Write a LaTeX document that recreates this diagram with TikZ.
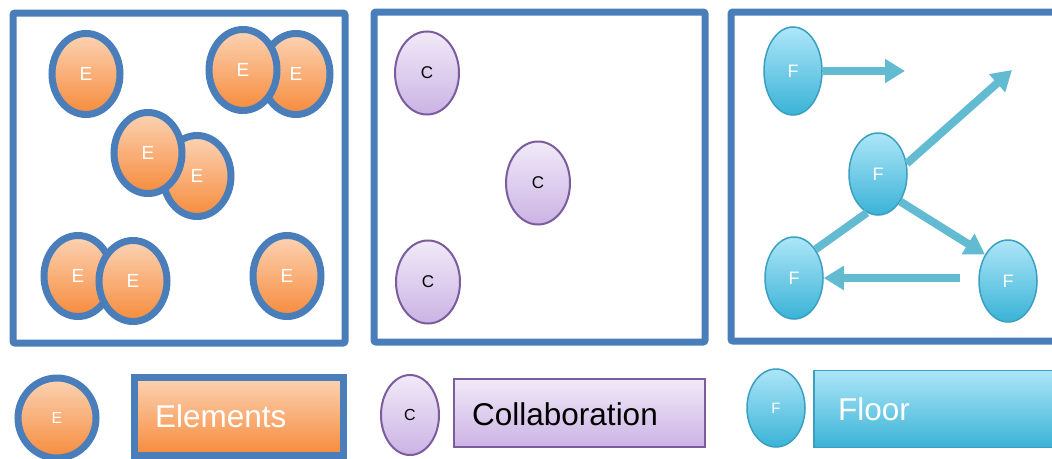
\documentclass[tikz,border=0pt]{standalone}
\usepackage{fontspec}
\setmainfont{Liberation Sans}
\usetikzlibrary{shapes.geometric,arrows.meta}
\definecolor{frameblue}{HTML}{4A7EBB}
\definecolor{etop}{HTML}{FCD3B4}
\definecolor{ebot}{HTML}{F68B3C}
\definecolor{ctop}{HTML}{F1EAF8}
\definecolor{cbot}{HTML}{CBB3E4}
\definecolor{cline}{HTML}{7B5C9E}
\definecolor{ftop}{HTML}{ADE6F8}
\definecolor{fbot}{HTML}{3AB3D6}
\definecolor{fline}{HTML}{3A9FC0}
\definecolor{arrowc}{HTML}{62BBD1}
\tikzset{
  frame/.style={draw=frameblue, line width=7pt, rounded corners=2pt},
  eball/.style={ellipse, draw=frameblue, line width=7pt, top color=etop, bottom color=ebot,
    minimum width=68pt, minimum height=81pt, inner sep=0pt, text=white, font=\fontsize{19}{19}\selectfont},
  cball/.style={ellipse, draw=cline, line width=2pt, top color=ctop, bottom color=cbot,
    minimum width=64pt, minimum height=83pt, inner sep=0pt, text=black, font=\fontsize{17}{17}\selectfont},
  fball/.style={ellipse, draw=fline, line width=1.5pt, top color=ftop, bottom color=fbot,
    minimum width=58pt, minimum height=82pt, inner sep=0pt, text=white, font=\fontsize{18}{18}\selectfont},
  flow/.style={draw=arrowc, line width=8pt, -{Triangle[length=20pt,width=23pt]}},
  label/.style={anchor=west, font=\fontsize{31.5}{31.5}\selectfont, inner sep=0pt}
}
\begin{document}
\begin{tikzpicture}[x=1pt,y=-1pt]
\useasboundingbox (0,0) rectangle (1052,458);
\clip (0,0) rectangle (1052,458);
\fill[white] (0,0) rectangle (1052,458);
% frames
\draw[frame] (13,13) rectangle (345,343);
\draw[frame] (374,12) rectangle (705,342);
\draw[frame] (731,12) rectangle (1070,341);
% Elements panel
\node[eball] (e1) at (86,74) {E};
\node[eball] (e3) at (296,74) {E};
\node[eball] (e2) at (243,70) {E};
\node[eball] (e5) at (197,176) {E};
\node[eball] (e4) at (148,153) {E};
\node[eball] (e6) at (78,276) {E};
\node[eball] (e7) at (133,281) {E};
\node[eball] (e8) at (287,276) {E};
% Collaboration panel
\node[cball] (c1) at (427,73) {C};
\node[cball] (c2) at (538,183) {C};
\node[cball] (c3) at (428,282) {C};
% Floor panel
\node[fball, minimum height=88pt] (f1) at (793,71) {F};
\node[fball] (f2) at (878,174) {F};
\node[fball] (f3) at (794,278) {F};
\node[fball] (f4) at (1008,281) {F};
\coordinate (t1) at (905,71);
\coordinate (t2) at (1012,70);
\coordinate (s5) at (960,278);
\draw[flow] (f1.east) -- (t1);
\draw[flow] (f2.20) -- (t2);
\draw[flow] (f2.309) -- (f4.131);
\draw[draw=arrowc, line width=8pt] (f2.254) -- (f3.53);
\draw[flow] (s5) -- (f3.east);
% legend
\node[eball, minimum width=78pt, minimum height=80pt, font=\fontsize{16}{16}\selectfont] (le) at (57,418) {E};
\node[draw=frameblue, line width=7pt, top color=etop, bottom color=ebot, minimum width=209pt, minimum height=78pt, inner sep=0pt] (lebox) at (238.5,416) {};
\node[label, text=white] (letext) at (155,416) {Elements};
\node[cball, minimum width=58pt, minimum height=80pt, font=\fontsize{16}{16}\selectfont] (lc) at (410,415) {C};
\node[draw=cline, line width=2pt, top color=ctop, bottom color=cbot, minimum width=251pt, minimum height=68pt, inner sep=0pt] (lcbox) at (579.5,413) {};
\node[label, text=black] (lctext) at (472,414) {Collaboration};
\node[fball, minimum width=58pt, minimum height=78pt, font=\fontsize{15}{15}\selectfont] (lf) at (776,408) {F};
\node[draw=fline, line width=1.5pt, top color=ftop, bottom color=fbot, minimum width=260pt, minimum height=77pt, inner sep=0pt] (lfbox) at (944,409) {};
\node[label, text=white] (lftext) at (838,409) {Floor};
\end{tikzpicture}
\end{document}
